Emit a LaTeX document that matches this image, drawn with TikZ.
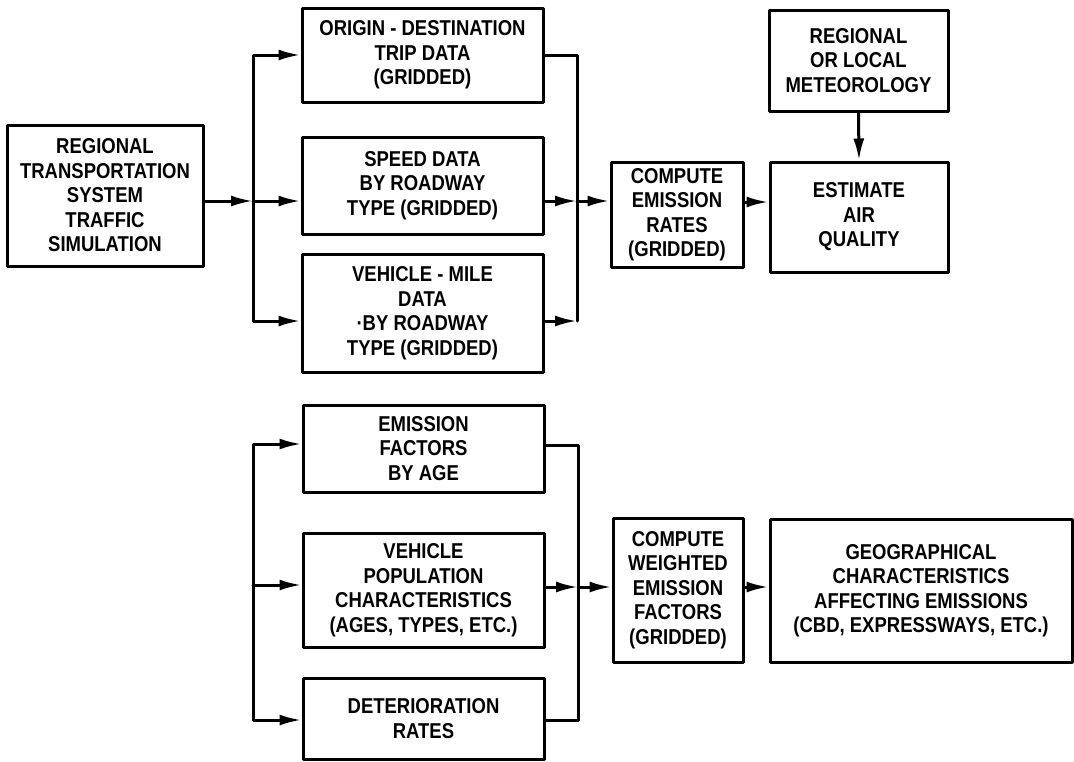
\documentclass[tikz,border=0pt]{standalone}
\usepackage{fontspec}
\setmainfont{Liberation Sans}[FakeStretch=0.86]
\usetikzlibrary{arrows.meta}
\begin{document}
\begin{tikzpicture}[x=1pt,y=-1pt,line join=round,line cap=round,
  blk/.style={draw,line width=3pt,align=center,inner sep=0pt,font=\bfseries\fontsize{21.5}{24.5}\selectfont},
  flow/.style={line width=3pt,-{Latex[length=22pt,width=11pt]}},
  link/.style={line width=3pt}]
\useasboundingbox (0,0) rectangle (1074,761);
% upper chain
\node[blk,minimum width=196pt,minimum height=141pt] (sim) at (105,195.5) {REGIONAL\\TRANSPORTATION\\SYSTEM\\TRAFFIC\\SIMULATION};
\node[blk,minimum width=241pt,minimum height=94pt] (od) at (422.5,55) {ORIGIN - DESTINATION\\TRIP DATA\\(GRIDDED)};
\node[blk,minimum width=241pt,minimum height=97pt] (spd) at (422.5,185.5) {SPEED DATA\\BY ROADWAY\\TYPE (GRIDDED)};
\node[blk,minimum width=241pt,minimum height=118pt] (vmt) at (422.5,313) {VEHICLE - MILE\\DATA\\·BY ROADWAY\\TYPE (GRIDDED)};
\node[blk,minimum width=132pt,minimum height=105pt] (cer) at (677,214.5) {COMPUTE\\EMISSION\\RATES\\(GRIDDED)};
\node[blk,minimum width=179pt,minimum height=101pt] (met) at (858.5,60.5) {REGIONAL\\OR LOCAL\\METEOROLOGY};
\node[blk,minimum width=178pt,minimum height=110pt] (aq) at (859,217) {ESTIMATE\\AIR\\QUALITY};
% lower chain
\node[blk,minimum width=241pt,minimum height=87pt] (ef) at (423.5,448.5) {EMISSION\\FACTORS\\BY AGE};
\node[blk,minimum width=241pt,minimum height=114pt] (vp) at (423.5,590) {VEHICLE\\POPULATION\\CHARACTERISTICS\\(AGES, TYPES, ETC.)};
\node[blk,minimum width=241pt,minimum height=81pt] (dr) at (423.5,718.5) {DETERIORATION\\RATES};
\node[blk,minimum width=130pt,minimum height=144pt] (cwf) at (678,590) {COMPUTE\\WEIGHTED\\EMISSION\\FACTORS\\(GRIDDED)};
\node[blk,minimum width=302pt,minimum height=143pt] (geo) at (921,590.5) {GEOGRAPHICAL\\CHARACTERISTICS\\AFFECTING EMISSIONS\\(CBD, EXPRESSWAYS, ETC.)};
% bracket points
\coordinate (lbm) at (253,201);
\coordinate (rbm) at (577,201);
\coordinate (rbb) at (577,321);
\coordinate (lbb) at (253,321);
\coordinate (aqin) at (757,202);
\coordinate (lb2t) at (253,444);
\coordinate (lb2m) at (253,585);
\coordinate (lb2b) at (253,720);
\coordinate (rb2t) at (578,445);
\coordinate (rb2m) at (578,587);
\coordinate (rb2b) at (578,720);
% upper connectors
\draw[flow] (sim.east |- lbm) -- (lbm);
\draw[flow] (lbm) -- (lbm -| spd.west);
\draw[flow] (lbm) |- (od.west);
\draw[flow] (lbm) |- (lbb -| vmt.west);
\draw[link] (od.east) -| (rbb);
\draw[flow] (rbb -| vmt.east) -- (rbb);
\draw[flow] (rbm -| spd.east) -- (rbm);
\draw[flow] (rbm) -- (rbm -| cer.west);
\draw[flow] (aqin -| cer.east) -- (aqin -| aq.west);
\draw[flow] (met.south) -- (aq.north);
% lower connectors
\draw[flow] (lb2m) |- (lb2t -| ef.west);
\draw[flow] (lb2m) |- (lb2b -| dr.west);
\draw[flow] (lb2m) -- (lb2m -| vp.west);
\draw[link] (rb2t -| ef.east) -- (rb2t) -- (rb2b) -- (rb2b -| dr.east);
\draw[flow] (rb2m -| vp.east) -- (rb2m);
\draw[flow] (rb2m) -- (rb2m -| cwf.west);
\draw[flow] (rb2m -| cwf.east) -- (rb2m -| geo.west);
\end{tikzpicture}
\end{document}
